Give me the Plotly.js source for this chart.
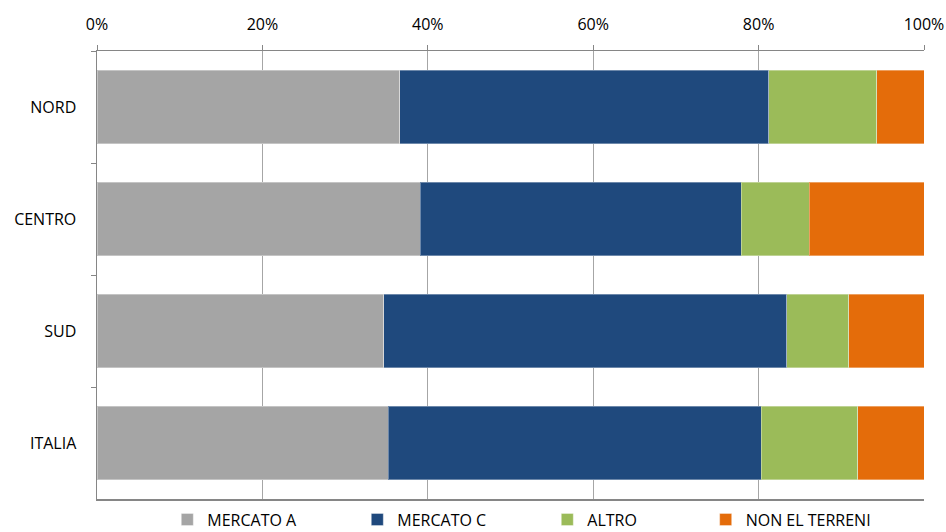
<!DOCTYPE html>
<html>
<head>
<meta charset="utf-8">
<script src="https://cdn.plot.ly/plotly-3.0.1.min.js"></script>
<style>html,body{margin:0;padding:0;background:#fff}#chart{width:946px;height:532px}</style>
</head>
<body>
<div id="chart"></div>
<script>
const categories = ["NORD", "CENTRO", "SUD", "ITALIA"];
const mercatoA = [36.6, 39.1, 34.7, 35.2];
const mercatoC = [44.6, 38.8, 48.7, 45.1];
const altro = [13.1, 8.2, 7.5, 11.7];
const nonElTerreni = [5.7, 13.9, 9.1, 8.0];
const seriesNames = ["MERCATO A", "MERCATO C", "ALTRO", "NON EL TERRENI"];
const seriesColors = ["#A5A5A5", "#1F497D", "#9BBB59", "#E46C0A"];
const tickVals = [0, 20, 40, 60, 80, 100];
const tickText = ["0%", "20%", "40%", "60%", "80%", "100%"];

const FONT = "Open Sans, sans-serif";
const seriesData = [mercatoA, mercatoC, altro, nonElTerreni];
const legendIds = ["legend", "legend", "legend", "legend2"];
const traces = seriesData.map((vals, i) => ({
  type: "bar",
  orientation: "h",
  name: seriesNames[i],
  y: categories,
  x: vals,
  legend: legendIds[i],
  marker: {color: seriesColors[i], line: {color: "rgba(255,255,255,0.35)", width: 1}},
  hoverinfo: "x+y+name"
}));

const legendFont = {family: FONT, size: 16, color: "#000"};
const layout = {
  width: 946, height: 532,
  margin: {l: 97, r: 22, t: 51, b: 33, pad: 0, autoexpand: false},
  barmode: "stack",
  bargap: 0.34,
  paper_bgcolor: "#fff", plot_bgcolor: "#fff",
  font: {family: FONT, size: 16, color: "#000"},
  showlegend: true,
  legend: {orientation: "h", x: 0.085, xanchor: "left", y: -0.046, yanchor: "middle",
           font: legendFont, traceorder: "normal",
           entrywidth: 145, itemwidth: 30, bgcolor: "rgba(0,0,0,0)"},
  legend2: {orientation: "h", x: 0.736, xanchor: "left", y: -0.046, yanchor: "middle",
           font: legendFont, itemwidth: 30, bgcolor: "rgba(0,0,0,0)"},
  xaxis: {
    side: "top", range: [0, 100], tickvals: tickVals, ticktext: tickText,
    showgrid: true, gridcolor: "#A6A6A6", gridwidth: 1,
    showline: true, linecolor: "#868686", linewidth: 1.5, mirror: true,
    ticks: "outside", ticklen: 5, tickcolor: "#868686",
    zeroline: false, fixedrange: true, ticklabelstandoff: 8
  },
  yaxis: {
    type: "category", autorange: "reversed",
    showline: true, linecolor: "#868686", linewidth: 1.5,
    ticks: "outside", ticklen: 5, tickcolor: "#868686", tickson: "boundaries",
    showgrid: false, zeroline: false, fixedrange: true, ticklabelstandoff: 16
  }
};

Plotly.newPlot("chart", traces, layout, {displayModeBar: false, staticPlot: true});
</script>
</body>
</html>
